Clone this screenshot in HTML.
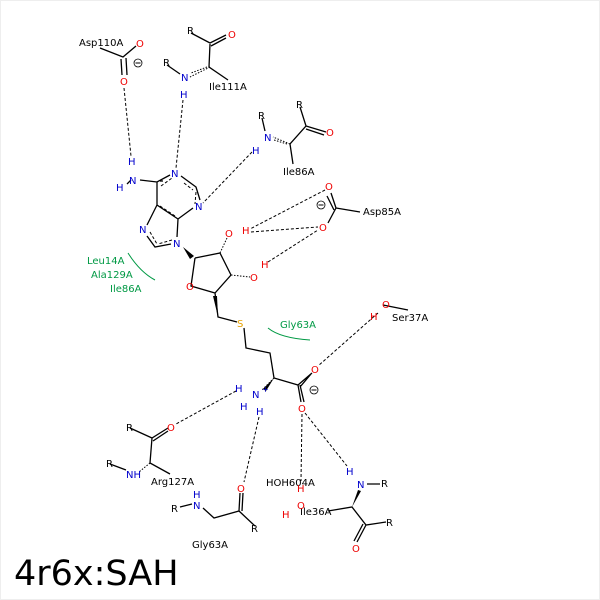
<!DOCTYPE html>
<html><head><style>body{margin:0;background:#fff}svg{display:block}text{font-family:"DejaVu Sans","Liberation Sans",sans-serif;font-size:10px}</style></head><body>
<svg width="600" height="600" viewBox="0 0 600 600">
<rect x="0.5" y="0.5" width="599" height="599" fill="#fff" stroke="#eee"/>
<g stroke="#000" stroke-width="1.3" fill="none">
<path d="M100 48L123 57L136 46M121 59L122 75M126 58L127 75"/>
<path d="M191 33L210 43L226 35M211 46L226 38M210 44L209 67L228 80M167 65L180 74"/>
<path d="M262 118L265 131M300 107L306 126L326 132M306 129L324 135M306 126L290 144L293 164"/>
<path d="M336 208L360 212M336 208L331 193M334 210L327 196M336 208L328 223"/>
<path d="M127 184L131 180M140 180L157 182L170 175M181 176L196 187L200 200M193 208L178 219L157 205L157 182M178 219L177 237M147 225L157 205M147 236L155 247L171 244"/>
<path d="M195 258L220 253L231 275L215 293L191 286L195 258M215 293L218 317L237 322M244 328L246 348L270 353L274 378L298 385L312 373M300 387L311 374M298 385L301 402M300 385L304 402"/>
<path d="M383 305L408 310"/>
<path d="M130 428L152 438L168 428M153 441L168 431M152 438L150 463L170 474M110 464L126 470"/>
<path d="M180 507L192 504M203 508L214 518L239 511L255 526M239 511L240 493M242 511L243 493"/>
<path d="M328 511L352 507L366 525L386 522M366 525L357 542M363 524L354 541M367 484L380 484"/>
<path d="M160 181L163 181" />
</g>
<g stroke="#000" stroke-width="1" stroke-dasharray="3,2" fill="none">
<path d="M161 186L172 178M184 183L193 190M160 206L175 216M150 232L157 244M172 240L158 244M196 192L195 204"/>
</g>
<g stroke="#000" stroke-width="1" stroke-dasharray="3,2" fill="none">
<path d="M124 88L131 156M183 100L176 168M252 152L203 203M325 190L250 229M251 232L318 227M268 262L318 230M378 313L318 366M236 391L176 424M259 417L244 482M302 414L301 481M305 413L347 466"/>
</g>
<g stroke="#000" stroke-width="1">
<path d="M210 67L190 77M207 67L191 73M290 144L273 137M287 144L274 140M150 463L139 472M231 275L250 277M220 253L227 238M274 378L262 390M152 438" stroke-dasharray="1.5,1.5"/>
</g>
<path d="M183 247L194 256L190 259Z" fill="#000"/>
<path d="M218 317L213 296L217 296Z" fill="#000"/>
<path d="M274 378L263 389L266 391Z" fill="#000"/>
<path d="M352 507L358 490L361 491Z" fill="#000"/>
<path d="M128 253Q140 272 155 280M268 328Q280 338 310 340" stroke="#009944" fill="none" stroke-width="1"/>
<g fill="#000">
<text x="79" y="46">Asp110A</text>
<text x="187" y="34">R</text><text x="163" y="66">R</text><text x="209" y="90">Ile111A</text>
<text x="258" y="119">R</text><text x="296" y="108">R</text><text x="283" y="175">Ile86A</text>
<text x="363" y="215">Asp85A</text><text x="392" y="321">Ser37A</text>
<text x="126" y="431">R</text><text x="106" y="467">R</text><text x="151" y="485">Arg127A</text>
<text x="171" y="512">R</text><text x="251" y="532">R</text><text x="192" y="548">Gly63A</text>
<text x="266" y="486">HOH604A</text><text x="300" y="515">Ile36A</text>
<text x="381" y="487">R</text><text x="386" y="526">R</text>
<text x="14" y="585" style="font-size:35px">4r6x:SAH</text>
</g>
<g fill="#e00">
<text x="136" y="47">O</text><text x="120" y="85">O</text><text x="228" y="38">O</text><text x="326" y="136">O</text>
<text x="225" y="237">O</text><text x="242" y="234">H</text><text x="250" y="281">O</text><text x="261" y="268">H</text>
<text x="186" y="290">O</text><text x="325" y="190">O</text><text x="319" y="231">O</text>
<text x="382" y="308">O</text><text x="370" y="320">H</text><text x="311" y="373">O</text><text x="298" y="412">O</text>
<text x="167" y="431">O</text><text x="237" y="492">O</text><text x="352" y="552">O</text>
<text x="297" y="492">H</text><text x="297" y="509">O</text><text x="282" y="518">H</text>
</g>
<g fill="#00c">
<text x="128" y="165">H</text><text x="129" y="184">N</text><text x="116" y="191">H</text>
<text x="181" y="81">N</text><text x="180" y="98">H</text>
<text x="171" y="177">N</text><text x="195" y="210">N</text><text x="139" y="233">N</text><text x="173" y="247">N</text>
<text x="264" y="141">N</text><text x="252" y="154">H</text>
<text x="235" y="392">H</text><text x="252" y="398">N</text><text x="262" y="392" style="font-size:8px">+</text><text x="240" y="410">H</text><text x="256" y="415">H</text>
<text x="126" y="478">NH</text><text x="193" y="498">H</text><text x="193" y="509">N</text>
<text x="346" y="475">H</text><text x="357" y="488">N</text>
</g>
<text x="237" y="327" fill="#e6a100">S</text>
<g fill="#009944"><text x="87" y="264">Leu14A</text><text x="91" y="278">Ala129A</text><text x="110" y="292">Ile86A</text><text x="280" y="328">Gly63A</text></g>
<g stroke="#000" fill="none" stroke-width="0.8"><circle cx="138" cy="63" r="4"/><circle cx="321" cy="205" r="4"/><circle cx="314" cy="390" r="4"/></g>
<g stroke="#000" stroke-width="1"><path d="M135.5 63h5M318.5 205h5M311.5 390h5"/></g>
</svg>
</body></html>
